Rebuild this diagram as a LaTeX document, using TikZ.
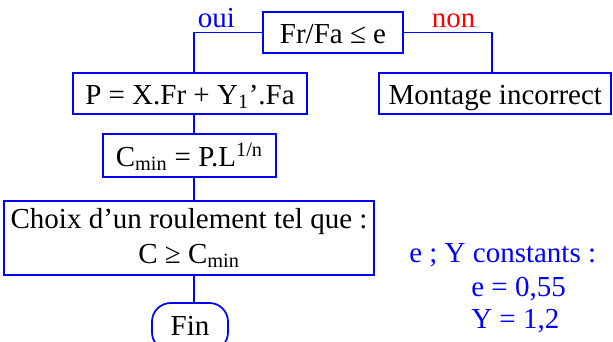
\documentclass[tikz,border=0pt]{standalone}
\usepackage{fontspec}
\setmainfont{Liberation Serif}
\begin{document}
\begin{tikzpicture}[x=0.75pt,y=-0.75pt,
  txt/.style={font=\fontsize{21.75}{26.25}\selectfont},
  box/.style={txt,draw=blue,line width=1.3pt,inner sep=0pt,text height=16pt,text depth=0pt},
  conn/.style={draw=blue,line width=1.3pt},
  lbl/.style={txt,inner sep=0pt,anchor=base}]
\useasboundingbox (0,0) rectangle (613,342);
\node[box,minimum width=105pt,minimum height=30.75pt] (q) at (333,32.5) {Fr/Fa ≤ e};
\node[box,minimum width=175.5pt,minimum height=30.75pt] (p) at (190,93.5) {P = X.Fr + Y\textsubscript{1}’.Fa};
\node[box,minimum width=174pt,minimum height=30.75pt] (m) at (495.3,93.5) {Montage incorrect};
\node[box,minimum width=130pt,minimum height=32.25pt] (c) at (189.3,155.5) {C\textsubscript{min} = P.L\textsuperscript{1/n}};
\node[txt,draw=blue,line width=1.3pt,inner sep=0pt,align=center,minimum width=277.5pt,minimum height=55.5pt] (ch) at (189,238) {Choix d’un roulement tel que :\\C ≥ C\textsubscript{min}};
\node[box,text depth=4pt,rounded corners=14pt,minimum width=57pt,minimum height=36pt] (fin) at (190,327) {Fin};
\coordinate (L) at (194,32.5);
\coordinate (R) at (492,32.5);
\draw[conn] (q.west) -- (L) -- (L |- p.north);
\draw[conn] (q.east) -- (R) -- (R |- m.north);
\draw[conn] (L |- p.south) -- (L |- c.north);
\draw[conn] (L |- c.south) -- (L |- ch.north);
\draw[conn] (L |- ch.south) -- (L |- fin.north);
\node[lbl,text=blue] (oui) at (216.5,28) {oui};
\node[lbl,text=red] (non) at (453.5,28) {non};
\node[lbl,anchor=base west,text=blue] (k1) at (409,262.5) {e ; Y constants :};
\node[lbl,anchor=base west,text=blue] (k2) at (471,296.5) {e = 0,55};
\node[lbl,anchor=base west,text=blue] (k3) at (471,328) {Y = 1,2};
\end{tikzpicture}
\end{document}
